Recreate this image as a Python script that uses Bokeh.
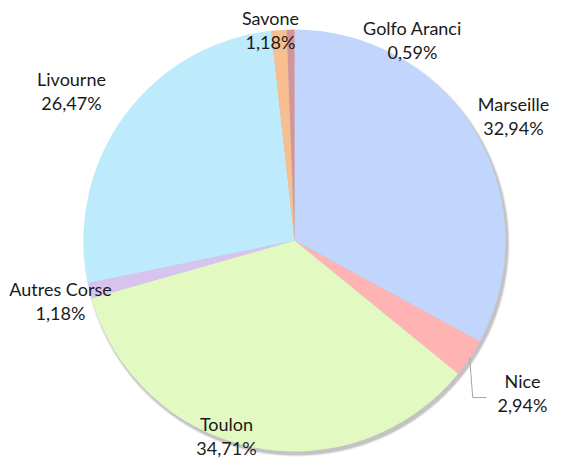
import numpy as np
from bokeh.plotting import figure
from bokeh.models import Range1d, ColumnDataSource
from bokeh.core.properties import value
from bokeh.embed import file_html
from bokeh.resources import INLINE

# ---- data ----
ports = ["Marseille", "Nice", "Toulon", "Autres Corse", "Livourne", "Savone", "Golfo Aranci"]
shares = [32.94, 2.94, 34.71, 1.18, 26.47, 1.18, 0.59]
colors = ["#c2d5fc", "#ffb3b3", "#e2f9c2", "#d6c4ef", "#bdebfc", "#f7bf90", "#d3959a"]

# ---- layout (picture pixels, origin = figure top-left) ----
W, H = 552, 459
CX, CY, R = 294, 240, 211
label_pos = {
    "Marseille": (513, 103),
    "Nice": (522, 380),
    "Toulon": (226, 423),
    "Autres Corse": (60, 288),
    "Livourne": (71, 78),
    "Savone": (270, 17),
    "Golfo Aranci": (412, 27),
}
LINE_H = 24
FONT = value("Lato")

p = figure(width=W, height=H, output_backend="svg", toolbar_location=None,
           x_range=Range1d(0, W), y_range=Range1d(-H, 0),
           min_border=0, outline_line_color=None)
p.axis.visible = False
p.grid.visible = False
p.background_fill_color = "white"
p.border_fill_color = "white"

# soft shadow
for k, a in [(4, 0.04), (3, 0.05), (2, 0.07), (1, 0.09)]:
    p.circle(x=[CX + 2], y=[-(CY + 3)], radius=R + k * 0.6, fill_color="black",
             fill_alpha=a, line_color=None)

total = sum(shares)
cum = np.concatenate([[0], np.cumsum(shares)]) / total
start = np.pi / 2 - 2 * np.pi * cum[:-1]
end = np.pi / 2 - 2 * np.pi * cum[1:]
src = ColumnDataSource(dict(start=start, end=end, color=colors, port=ports))
p.wedge(x=CX, y=-CY, radius=R, start_angle="start", end_angle="end",
        direction="clock", fill_color="color", line_color=None, source=src)

# labels
lx = [label_pos[n][0] for n in ports]
ly = [-label_pos[n][1] for n in ports]
pct = [f"{v:.2f}".replace(".", ",") + "%" for v in shares]
p.text(x=lx, y=ly, text=ports, text_align="center", text_baseline="middle",
       text_font=FONT, text_font_size="18px", text_color="#1a1a1a")
p.text(x=lx, y=[y - LINE_H for y in ly], text=pct, text_align="center", text_baseline="middle",
       text_font=FONT, text_font_size="18px", text_color="#1a1a1a")

# leader line for Nice
i = ports.index("Nice")
mid = (cum[i] + cum[i + 1]) / 2 * 2 * np.pi
sx = CX + R * np.sin(mid)
sy = CY - R * np.cos(mid)
nx, ny = label_pos["Nice"]
p.line(x=[sx, sx + 3, nx - 36], y=[-sy, -(ny + 17), -(ny + 17)], line_color="#a6a6a6", line_width=1)

open("out.html", "w").write(file_html(p, INLINE))
